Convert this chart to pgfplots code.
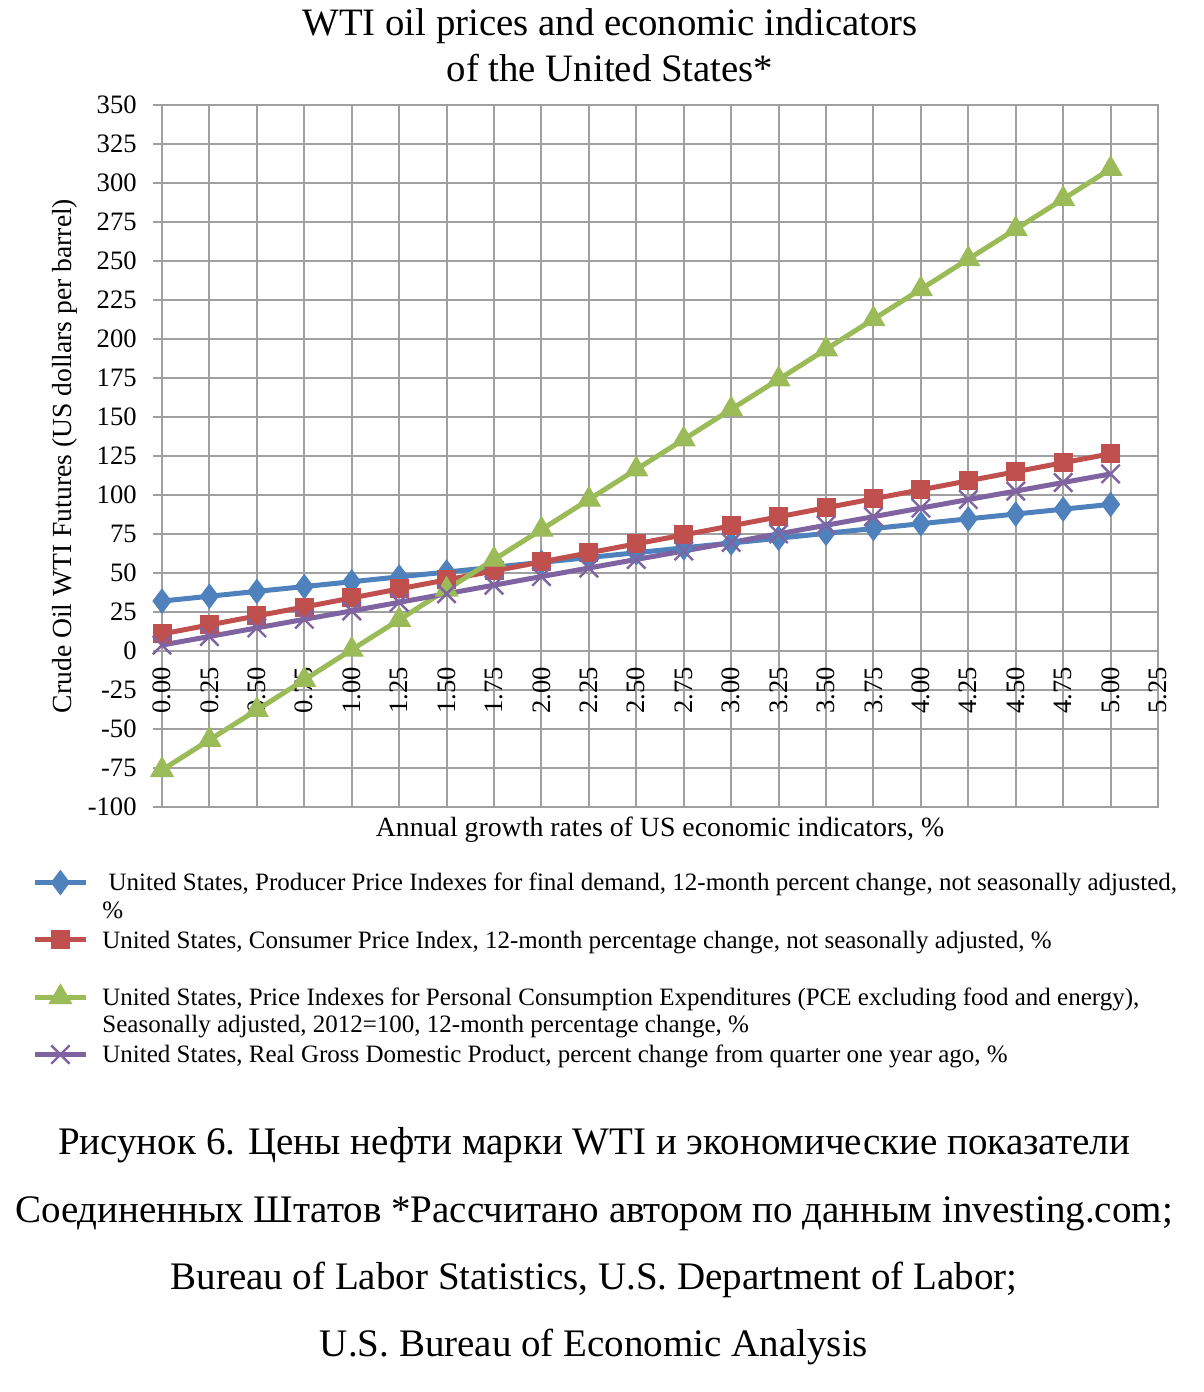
\documentclass[border=0pt]{standalone}
\usepackage{pgfplots}
\pgfplotsset{compat=1.18}
\usepackage{fontspec}
\setmainfont{Liberation Serif}
\definecolor{cblue}{HTML}{4F81BD}
\definecolor{cred}{HTML}{C0504D}
\definecolor{cgreen}{HTML}{9BBB59}
\definecolor{cpurple}{HTML}{8064A2}
\definecolor{gridgray}{HTML}{A0A0A0}
\begin{document}
\begin{tikzpicture}
\useasboundingbox (0,0) rectangle (602pt,696pt);
\begin{axis}[
  at={(81pt,292.5pt)}, anchor=south west,
  scale only axis, width=498pt, height=351pt,
  xmin=0, xmax=5.25, ymin=-100, ymax=350,
  xtick={0,0.25,0.5,0.75,1,1.25,1.5,1.75,2,2.25,2.5,2.75,3,3.25,3.5,3.75,4,4.25,4.5,4.75,5,5.25},
  ytick={-100,-75,...,350},
  grid=major,
  major grid style={draw=gridgray, line width=1pt},
  axis line style={draw=gridgray, line width=1pt},
  tick align=outside,
  major tick length=4.5pt,
  ytick pos=left,
  xtick style={draw=none},
  ytick style={draw=gridgray, line width=1pt},
  clip=false,
  /pgf/number format/assume math mode=true,
  x tick label style={/pgf/number format/.cd, fixed, fixed zerofill, precision=2, assume math mode=true, /tikz/.cd,
     rotate=90, anchor=east, inner sep=0pt, font=\fontsize{13.3}{15}\selectfont},
  xticklabel shift=-74.5pt,
  y tick label style={/pgf/number format/.cd, assume math mode=true, /tikz/.cd,
     inner sep=0pt, xshift=-8pt, font=\fontsize{13.3}{15}\selectfont},
  xlabel={Annual growth rates of US economic indicators, \%},
  ylabel={Crude Oil WTI Futures (US dollars per barrel)},
  every axis x label/.style={at={(rel axis cs:0.5,-0.0328)}, anchor=center, font=\fontsize{13.9}{15}\selectfont},
  every axis y label/.style={at={(rel axis cs:-0.0974,0.5)}, rotate=90, anchor=center, font=\fontsize{13.8}{15}\selectfont},
  legend cell align=left,
  legend image code/.code={\draw[mark repeat=2, mark phase=2] plot coordinates {(0pt,0pt) (12.75pt,0pt) (25.5pt,0pt)};},
  legend style={at={(rel axis cs:-0.1305,-0.0855)}, anchor=north west, draw=none, fill=none, inner sep=0pt,
     row sep=13.5pt, column sep=5pt, font=\fontsize{12.5}{13.8}\selectfont},
]
\addplot[cblue, line width=2.5pt, mark=diamond*, mark size=6pt, mark options={solid, fill=cblue, line width=0.5pt}] coordinates {
(0,32) (0.25,35.1) (0.5,38.2) (0.75,41.3) (1,44.4) (1.25,47.5) (1.5,50.6) (1.75,53.7) (2,56.8) (2.25,59.9) (2.5,63)
(2.75,66.1) (3,69.2) (3.25,72.3) (3.5,75.4) (3.75,78.5) (4,81.6) (4.25,84.7) (4.5,87.8) (4.75,90.9) (5,94)};
\addlegendentry{\parbox[t]{555pt}{\strut\ United States, Producer Price Indexes for final demand, 12-month percent change, not seasonally adjusted,\\\strut\%}}
\addplot[cred, line width=2.5pt, mark=square*, mark size=4.5pt, mark options={solid, fill=cred, line width=0.5pt}] coordinates {
(0,10.9) (0.25,16.7) (0.5,22.5) (0.75,28.2) (1,34) (1.25,39.8) (1.5,45.6) (1.75,51.3) (2,57.1) (2.25,62.9) (2.5,68.7)
(2.75,74.4) (3,80.2) (3.25,86) (3.5,91.8) (3.75,97.6) (4,103.3) (4.25,109.1) (4.5,114.9) (4.75,120.7) (5,126.4)};
\addlegendentry{\parbox[t]{555pt}{\strut United States, Consumer Price Index, 12-month percentage change, not seasonally adjusted, \%}}
\addplot[cgreen, line width=2.5pt, mark=triangle*, mark size=6.5pt, mark options={solid, fill=cgreen, line width=0.5pt}] coordinates {
(0,-76.3) (0.25,-57.0) (0.5,-37.8) (0.75,-18.5) (1,0.8) (1.25,20.0) (1.5,39.3) (1.75,58.6) (2,77.8) (2.25,97.1) (2.5,116.4)
(2.75,135.6) (3,154.9) (3.25,174.1) (3.5,193.4) (3.75,212.7) (4,231.9) (4.25,251.2) (4.5,270.4) (4.75,289.7) (5,309.0)};
\addlegendentry{\parbox[t]{555pt}{\strut United States, Price Indexes for Personal Consumption Expenditures (PCE excluding food and energy),\\\strut Seasonally adjusted, 2012=100, 12-month percentage change, \%}}
\addplot[cpurple, line width=2.5pt, mark=x, mark size=6.5pt, mark options={solid, line width=1.2pt}] coordinates {
(0,3.8) (0.25,9.3) (0.5,14.8) (0.75,20.3) (1,25.7) (1.25,31.2) (1.5,36.7) (1.75,42.2) (2,47.7) (2.25,53.2) (2.5,58.7)
(2.75,64.1) (3,69.6) (3.25,75.1) (3.5,80.6) (3.75,86.1) (4,91.6) (4.25,97.1) (4.5,102.5) (4.75,108.0) (5,113.5)};
\addlegendentry{\parbox[t]{555pt}{\strut United States, Real Gross Domestic Product, percent change from quarter one year ago, \%}}
\end{axis}
\node[align=center, font=\fontsize{19.4}{23}\selectfont, anchor=center] at (305pt,673.5pt)
  {WTI oil prices and economic indicators\\of the United States*};
\begin{scope}[every node/.style={anchor=base, inner sep=0pt, font=\fontsize{19.5}{22}\selectfont}]
\node at (297pt,118.5pt) {Рисунок 6. Цены нефти марки WTI и экономические показатели};
\node at (297pt,84.5pt) {Соединенных Штатов *Рассчитано автором по данным investing.com;};
\node at (297pt,51pt) {Bureau of Labor Statistics, U.S. Department of Labor;};
\node at (297pt,17.5pt) {U.S. Bureau of Economic Analysis};
\end{scope}
\end{tikzpicture}
\end{document}
